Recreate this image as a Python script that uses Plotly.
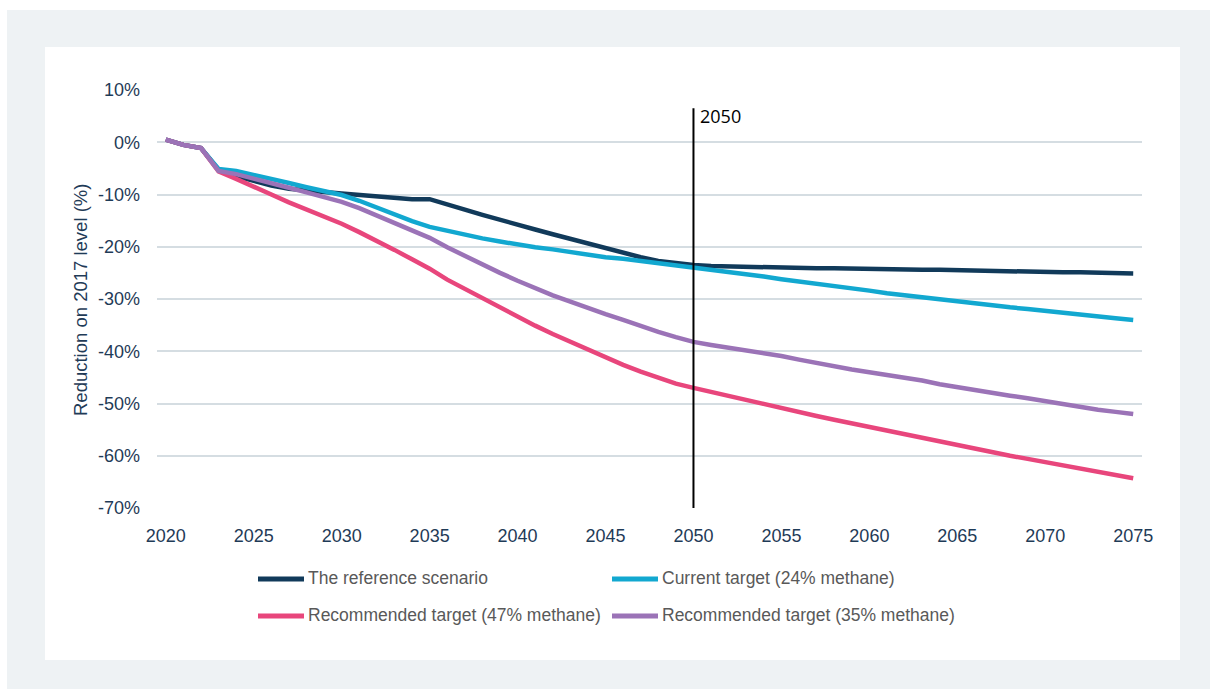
import plotly.graph_objects as go

# Years and emission-reduction pathways (% change vs 2017 level)
years = list(range(2020, 2076))

reference_scenario = [
    0.5, -0.5, -1.1, -5.3, -6.5, -7.5, -8.3, -8.9, -9.3, -9.5,
    -9.8, -10.1, -10.4, -10.7, -10.9, -10.9, -12.0, -12.9, -13.9, -14.9,
    -15.8, -16.7, -17.6, -18.5, -19.3, -20.2, -21.1, -22.0, -22.7, -23.2,
    -23.5, -23.7, -23.8, -23.8, -23.9, -24.0, -24.0, -24.1, -24.1, -24.2,
    -24.2, -24.3, -24.3, -24.4, -24.4, -24.5, -24.5, -24.6, -24.6, -24.7,
    -24.8, -24.9, -24.9, -25.0, -25.0, -25.1,
]
current_target = [
    0.5, -0.5, -1.1, -5.1, -5.5, -6.2, -7.0, -7.8, -8.6, -9.3,
    -10.1, -11.2, -12.5, -13.9, -15.1, -16.2, -17.0, -17.7, -18.4, -19.0,
    -19.6, -20.1, -20.5, -21.0, -21.6, -22.0, -22.3, -22.7, -23.1, -23.5,
    -23.9, -24.4, -24.8, -25.2, -25.7, -26.2, -26.6, -27.1, -27.5, -28.0,
    -28.4, -28.9, -29.3, -29.8, -30.2, -30.6, -31.0, -31.3, -31.6, -31.9,
    -32.3, -32.7, -33.1, -33.4, -33.7, -34.0,
]
recommended_47 = [
    0.5, -0.5, -1.1, -5.6, -7.0, -8.6, -10.0, -11.5, -12.8, -14.2,
    -15.6, -17.2, -18.8, -20.6, -22.4, -24.2, -26.3, -28.1, -29.9, -31.7,
    -33.4, -35.1, -36.7, -38.2, -39.7, -41.1, -42.6, -43.9, -45.1, -46.2,
    -47.0, -47.8, -48.6, -49.3, -50.0, -50.8, -51.6, -52.4, -53.1, -53.8,
    -54.5, -55.3, -56.0, -56.7, -57.4, -58.0, -58.6, -59.3, -60.0, -60.6,
    -61.2, -61.9, -62.5, -63.1, -63.7, -64.3,
]
recommended_35 = [
    0.5, -0.5, -1.1, -5.5, -6.1, -6.9, -7.8, -8.7, -9.6, -10.4,
    -11.4, -12.6, -14.0, -15.6, -17.0, -18.3, -20.1, -21.8, -23.5, -25.0,
    -26.5, -28.0, -29.3, -30.5, -31.8, -32.9, -34.0, -35.2, -36.3, -37.3,
    -38.2, -38.8, -39.3, -39.8, -40.3, -40.9, -41.6, -42.3, -43.0, -43.5,
    -44.0, -44.5, -45.0, -45.6, -46.3, -46.9, -47.4, -48.0, -48.5, -49.0,
    -49.6, -50.2, -50.7, -51.2, -51.6, -52.0,
]

series_names = [
    "The reference scenario",
    "Current target (24% methane)",
    "Recommended target (47% methane)",
    "Recommended target (35% methane)",
]
series_values = [reference_scenario, current_target, recommended_47, recommended_35]
series_colors = ["#113a5a", "#12a8d0", "#e8467c", "#9b73b7"]

x_tickvals = list(range(2020, 2080, 5))
x_ticktext = [str(v) for v in x_tickvals]
y_tickvals = list(range(-70, 20, 10))
y_ticktext = [f"{v}%" for v in y_tickvals]

marker_year = 2050
marker_label = "2050"
y_title = "Reduction on 2017 level (%)"

# Page geometry (pixels)
W, H = 1210, 689
ML, MR, MT, MB = 157, 68, 90, 181
PW, PH = W - ML - MR, H - MT - MB


def px_x(px):
    return (px - ML) / PW


def px_y(py):
    return (H - MB - py) / PH


TICK_COLOR = "#1f3b57"
GRID_COLOR = "#d5dde2"
SANS = "Liberation Sans, Arial, sans-serif"

fig = go.Figure()
for name, vals, col in zip(series_names, series_values, series_colors):
    fig.add_trace(go.Scatter(
        x=years, y=vals, name=name, mode="lines",
        line=dict(color=col, width=4.5),
        showlegend=False,
    ))

shapes = [
    # outer grey frame and white card
    dict(type="rect", xref="paper", yref="paper", layer="below",
         x0=px_x(7), x1=px_x(W), y0=px_y(H), y1=px_y(10),
         fillcolor="#eef2f4", line=dict(width=0)),
    dict(type="rect", xref="paper", yref="paper", layer="below",
         x0=px_x(45), x1=px_x(1180), y0=px_y(660), y1=px_y(47),
         fillcolor="#ffffff", line=dict(width=0)),
    # 2050 marker line
    dict(type="line", xref="x", yref="y", x0=marker_year, x1=marker_year,
         y0=-70, y1=6.5, line=dict(color="#000000", width=2)),
]

annotations = [
    dict(text=marker_label, x=marker_year, y=5.1, xref="x", yref="y",
         xanchor="left", yanchor="middle", xshift=5, showarrow=False,
         font=dict(family="Open Sans, sans-serif", size=18, color="#000000")),
    dict(text=y_title, x=px_x(80), y=px_y(300), xref="paper", yref="paper",
         textangle=-90, xanchor="center", yanchor="middle", showarrow=False,
         font=dict(family=SANS, size=18.5, color=TICK_COLOR)),
]

# legend: two columns, two rows
legend_cols = [258, 612]
legend_rows = [578, 615]
for i, (name, col) in enumerate(zip(series_names, series_colors)):
    lx = legend_cols[i % 2]
    ly = legend_rows[i // 2]
    shapes.append(dict(type="line", xref="paper", yref="paper",
                       x0=px_x(lx), x1=px_x(lx + 46), y0=px_y(ly + 1), y1=px_y(ly + 1),
                       line=dict(color=col, width=5)))
    annotations.append(dict(text=name, x=px_x(lx + 48), y=px_y(ly), xref="paper",
                            yref="paper", xanchor="left", yanchor="middle",
                            showarrow=False,
                            font=dict(family=SANS, size=17.5, color="#595959")))

fig.update_layout(
    width=W, height=H,
    margin=dict(l=ML, r=MR, t=MT, b=MB),
    paper_bgcolor="#ffffff",
    plot_bgcolor="rgba(0,0,0,0)",
    shapes=shapes,
    annotations=annotations,
    showlegend=False,
    xaxis=dict(
        range=[2019.5, 2075.5], tickvals=x_tickvals, ticktext=x_ticktext,
        showgrid=False, zeroline=False, showline=False, ticks="",
        ticklabelstandoff=15,
        tickfont=dict(family=SANS, size=18, color=TICK_COLOR),
    ),
    yaxis=dict(
        range=[-70, 10], tickvals=y_tickvals, ticktext=y_ticktext,
        showgrid=True, gridcolor=GRID_COLOR, gridwidth=1.5,
        zeroline=True, zerolinecolor=GRID_COLOR, zerolinewidth=1.5,
        showline=False, ticks="", ticklabelstandoff=16,
        tickfont=dict(family=SANS, size=18, color=TICK_COLOR),
    ),
)

fig.write_html("out.html")
